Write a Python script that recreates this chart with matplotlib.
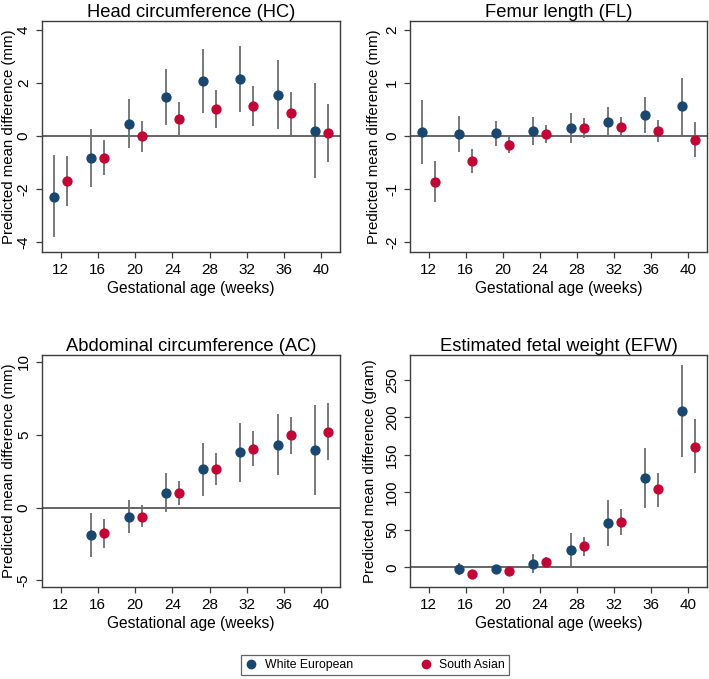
import numpy as np
import matplotlib as mpl; mpl.use("Agg")
import matplotlib.pyplot as plt
from matplotlib.lines import Line2D

mpl.rcParams.update({
    "font.family": "sans-serif",
    "font.sans-serif": ["Liberation Sans", "DejaVu Sans"],
    "font.size": 9,
})
BLUE = "#1a476f"
RED = "#c10534"
CI = "#6e6e6e"
FRAME = "#3c3c3c"

WEEKS = [12, 16, 20, 24, 28, 32, 36, 40]
WEEKS_LATE = [16, 20, 24, 28, 32, 36, 40]

# ── Head circumference (mm) ──
HC_WE = [-2.29, -0.83, 0.45, 1.48, 2.08, 2.16, 1.57, 0.20]
HC_WE_LO = [-3.82, -1.91, -0.46, 0.43, 0.88, 0.91, 0.25, -1.60]
HC_WE_HI = [-0.72, 0.25, 1.40, 2.53, 3.28, 3.41, 2.89, 1.99]
HC_SA = [-1.70, -0.82, 0.00, 0.63, 1.03, 1.13, 0.86, 0.11]
HC_SA_LO = [-2.63, -1.47, -0.59, 0.00, 0.31, 0.38, 0.04, -0.97]
HC_SA_HI = [-0.77, -0.15, 0.57, 1.28, 1.76, 1.89, 1.65, 1.20]

# ── Femur length (mm) ──
FL_WE = [0.07, 0.04, 0.05, 0.09, 0.15, 0.26, 0.40, 0.56]
FL_WE_LO = [-0.53, -0.30, -0.19, -0.18, -0.13, -0.01, 0.05, 0.02]
FL_WE_HI = [0.67, 0.38, 0.29, 0.35, 0.43, 0.54, 0.73, 1.09]
FL_SA = [-0.86, -0.47, -0.17, 0.04, 0.15, 0.17, 0.09, -0.07]
FL_SA_LO = [-1.25, -0.69, -0.33, -0.14, -0.03, 0.00, -0.11, -0.40]
FL_SA_HI = [-0.48, -0.25, -0.01, 0.21, 0.34, 0.35, 0.30, 0.26]

# ── Abdominal circumference (mm) ──
AC_WE = [-1.90, -0.66, 1.01, 2.61, 3.78, 4.28, 3.96]
AC_WE_LO = [-3.39, -1.78, -0.34, 0.80, 1.76, 2.20, 0.85]
AC_WE_HI = [-0.37, 0.50, 2.38, 4.44, 5.77, 6.38, 7.03]
AC_SA = [-1.74, -0.62, 0.98, 2.65, 4.03, 4.97, 5.19]
AC_SA_LO = [-2.77, -1.37, 0.16, 1.56, 2.84, 3.64, 3.23]
AC_SA_HI = [-0.80, 0.16, 1.83, 3.75, 5.22, 6.20, 7.14]

# ── Estimated fetal weight (gram) ──
EFW_WE = [-2.2, -1.8, 4.9, 23.1, 59.1, 119.6, 208.4]
EFW_WE_LO = [-10.2, -4.4, -7.1, 0.9, 28.9, 79.6, 147.6]
EFW_WE_HI = [5.3, 0.9, 17.3, 45.3, 89.8, 159.6, 269.8]
EFW_SA = [-9.3, -4.9, 7.6, 28.4, 60.0, 104.0, 160.9]
EFW_SA_LO = [-11.5, -7.0, 2.2, 15.6, 42.7, 80.9, 125.3]
EFW_SA_HI = [-7.1, -2.8, 13.3, 40.9, 77.3, 126.2, 197.3]

PANELS = [
    ("Head circumference (HC)", "Predicted mean difference (mm)", WEEKS,
     (HC_WE, HC_WE_LO, HC_WE_HI), (HC_SA, HC_SA_LO, HC_SA_HI),
     (-4.38, 4.35), [-4, -2, 0, 2, 4], [0.0592, 0.6289, 0.4203, 0.3402], -0.112),
    ("Femur length (FL)", "Predicted mean difference (mm)", WEEKS,
     (FL_WE, FL_WE_LO, FL_WE_HI), (FL_SA, FL_SA_LO, FL_SA_HI),
     (-2.19, 2.17), [-2, -1, 0, 1, 2], [0.5783, 0.6289, 0.4189, 0.3402], -0.121),
    ("Abdominal circumference (AC)", "Predicted mean difference (mm)", WEEKS_LATE,
     (AC_WE, AC_WE_LO, AC_WE_HI), (AC_SA, AC_SA_LO, AC_SA_HI),
     (-5.45, 10.46), [-5, 0, 5, 10], [0.0592, 0.1355, 0.4203, 0.3417], -0.112),
    ("Estimated fetal weight (EFW)", "Predicted mean difference (gram)", WEEKS_LATE,
     (EFW_WE, EFW_WE_LO, EFW_WE_HI), (EFW_SA, EFW_SA_LO, EFW_SA_HI),
     (-26, 283), [0, 50, 100, 150, 200, 250], [0.5783, 0.1355, 0.4189, 0.3417], -0.135),
]

fig = plt.figure(figsize=(7.09, 6.79), dpi=100)

for title, ylab, wk, we, sa, ylim, yt, pos, ylx in PANELS:
    ax = fig.add_axes(pos)
    wk = np.array(wk, dtype=float)
    for (est, lo, hi), off, col in [(we, -0.7, BLUE), (sa, 0.7, RED)]:
        ax.vlines(wk + off, lo, hi, color=CI, lw=1.3, zorder=2)
        ax.plot(wk + off, est, "o", ms=6.4, color=col, mec=col, zorder=3)
    ax.axhline(0, color=FRAME, lw=1.1, zorder=1)
    ax.set_xlim(10, 42)
    ax.set_ylim(*ylim)
    ax.set_xticks(WEEKS)
    ax.set_yticks(yt)
    ax.set_yticklabels([str(v) for v in yt], rotation=90, va="center")
    ax.tick_params(direction="out", length=4, width=0.9, color=FRAME,
                   labelsize=11, pad=4)
    for s in ax.spines.values():
        s.set_color(FRAME)
        s.set_linewidth(1.0)
    ax.set_title(title, fontsize=13.2, pad=3)
    ax.set_xlabel("Gestational age (weeks)", fontsize=11.2, labelpad=3)
    ax.set_ylabel(ylab, fontsize=10.8, va="center")
    ax.yaxis.set_label_coords(ylx, 0.5)

handles = [
    Line2D([], [], ls="none", marker="o", ms=6, color=BLUE, label="White European"),
    Line2D([], [], ls="none", marker="o", ms=6, color=RED, label="South Asian"),
]
leg = fig.legend(handles=handles, loc="center", bbox_to_anchor=(0.529, 0.0206),
                 ncol=2, fontsize=8.8, frameon=True, fancybox=False,
                 edgecolor=FRAME, columnspacing=5.5, handletextpad=0.6,
                 borderpad=0.35, handlelength=1.0)
leg.get_frame().set_linewidth(0.9)

fig.savefig("out.png", dpi=100, facecolor="white")
